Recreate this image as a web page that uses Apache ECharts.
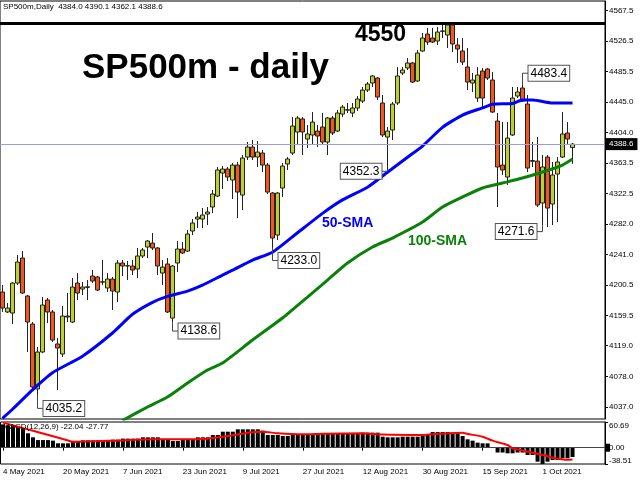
<!DOCTYPE html>
<html><head><meta charset="utf-8">
<script src="https://cdn.jsdelivr.net/npm/echarts@6/dist/echarts.min.js"></script>
<style>html,body{margin:0;padding:0;background:#fff;}#c{width:640px;height:480px;}</style>
</head><body><div id="c"></div>
<script>
// ---------- DATA ----------
const openP = [4190.8,4164.1,4162.7,4202.8,4236.3,4185.5,4148.0,4061.1,4110.6,4180.1,
4164.1,4121.3,4107.9,4158.7,4150.7,4202.8,4194.8,4197.0,4212.2,4210.9,
4204.0,4196.2,4208.2,4190.8,4229.6,4225.6,4225.6,4221.6,4239.0,4251.0,
4256.3,4249.7,4216.2,4228.3,4156.0,4229.6,4248.3,4245.6,4272.4,4288.4,
4288.4,4295.1,4304.5,4319.2,4349.9,4355.3,4340.6,4360.6,4320.5,4371.3,
4384.7,4371.3,4376.7,4360.6,4323.2,4267.0,4329.9,4362.0,4376.7,4404.8,
4422.2,4395.4,4400.8,4406.1,4411.5,4391.4,4423.5,4406.1,4428.8,4434.0,
4430.2,4436.9,4446.2,4460.9,4470.3,4477.0,4443.6,4398.1,4407.5,4443.6,
4483.7,4490.4,4497.1,4473.0,4513.1,4535.8,4530.5,4526.5,4539.4,4534.5,
4547.9,4521.1,4513.1,4491.7,4470.3,4450.2,4486.4,4489.0,4474.3,4419.5,
4360.6,4344.6,4400.8,4452.9,4463.6,4442.2,4365.6,4365.9,4309.8,4371.3,
4308.5,4348.6,4371.3,4403.4,4384.0];
const highP = [4200.2,4176.1,4204.2,4240.3,4245.6,4186.8,4150.7,4117.3,4184.1,4182.8,
4166.7,4129.3,4172.1,4189.5,4209.5,4216.2,4204.2,4206.9,4220.2,4212.2,
4233.6,4216.2,4210.9,4233.6,4233.6,4232.3,4233.6,4249.7,4249.7,4260.3,
4269.7,4251.0,4233.6,4236.3,4226.9,4259.0,4257.7,4273.7,4288.4,4297.8,
4303.1,4304.5,4327.2,4358.0,4359.3,4358.0,4363.3,4364.7,4374.0,4391.4,
4394.1,4392.7,4380.7,4363.3,4324.5,4324.5,4363.3,4371.3,4424.8,4426.2,
4424.8,4414.1,4431.5,4414.1,4430.2,4424.8,4426.2,4434.2,4440.9,4443.6,
4443.6,4452.9,4465.0,4471.6,4481.0,4478.3,4454.3,4411.5,4444.9,4491.7,
4491.7,4503.7,4498.4,4514.4,4537.2,4543.9,4543.9,4545.2,4550.5,4550.5,
4550.5,4530.5,4530.5,4517.1,4483.7,4491.7,4490.4,4490.4,4485.0,4430.2,
4418.1,4418.1,4465.0,4465.0,4467.6,4454.3,4391.4,4398.1,4374.0,4374.0,
4364.7,4371.3,4431.5,4418.1,4390.1];
const lowP = [4164.1,4162.7,4148.0,4200.2,4188.2,4110.6,4059.8,4054.4,4109.2,4149.4,
4123.9,4059.8,4103.9,4150.7,4149.4,4180.1,4186.8,4180.1,4202.8,4192.1,
4200.2,4190.8,4166.7,4177.4,4212.2,4206.9,4213.5,4209.5,4236.3,4236.3,
4247.0,4213.5,4200.2,4162.7,4150.0,4217.6,4241.6,4244.3,4267.0,4276.4,
4276.4,4280.4,4296.5,4317.8,4328.5,4339.2,4315.2,4289.8,4300.5,4367.3,
4367.3,4358.0,4351.3,4321.9,4249.7,4260.3,4317.8,4354.0,4374.0,4387.4,
4374.0,4383.4,4387.4,4384.7,4387.4,4374.0,4400.8,4404.8,4424.8,4430.2,
4424.8,4432.9,4443.6,4458.3,4465.0,4447.6,4398.1,4354.0,4394.1,4440.9,
4481.0,4487.7,4470.3,4471.6,4511.8,4521.1,4523.8,4521.1,4530.5,4517.1,
4511.8,4497.1,4494.4,4460.9,4458.3,4444.9,4438.2,4474.3,4430.2,4304.5,
4347.3,4333.9,4399.4,4450.2,4444.9,4351.3,4358.0,4304.5,4280.0,4277.7,
4280.4,4284.4,4370.0,4387.4,4362.1];
const closeP = [4169.4,4169.4,4202.8,4230.9,4189.5,4150.7,4063.8,4110.6,4173.4,4164.1,
4126.6,4115.9,4158.7,4157.4,4197.5,4189.5,4197.5,4197.8,4205.5,4193.5,
4204.5,4208.2,4192.1,4229.6,4225.6,4226.0,4220.2,4239.0,4247.0,4259.0,
4249.7,4225.6,4224.2,4164.1,4225.6,4248.3,4243.0,4268.4,4283.1,4291.1,
4293.8,4297.8,4321.9,4354.0,4355.3,4344.6,4360.6,4324.5,4370.0,4384.7,
4371.3,4378.0,4360.6,4324.5,4263.0,4323.2,4359.3,4368.7,4412.8,4423.5,
4404.8,4402.1,4418.1,4399.4,4391.4,4423.5,4403.4,4430.2,4438.2,4434.6,
4436.9,4448.9,4460.9,4469.0,4479.7,4451.6,4400.8,4406.1,4442.2,4479.7,
4487.7,4497.1,4471.6,4510.4,4530.5,4525.1,4525.1,4538.5,4540.0,4547.9,
4522.5,4515.8,4498.4,4471.6,4474.3,4481.0,4450.2,4477.0,4431.5,4358.0,
4354.0,4396.7,4450.2,4458.3,4446.2,4356.6,4366.7,4307.2,4358.0,4303.1,
4347.3,4364.7,4402.1,4395.4,4388.6];

// 50-SMA and 100-SMA read at these bar positions
const sma50Idx = [0,2,6,10,16,22,26,30,33,37,40,44,46,50,54,59,64,68,73,77,81,84,88,92,96,98,102,104,106,110,114];
const sma50Val = [4022,4034,4060,4083,4105,4136,4161,4177,4185,4192,4200,4213.5,4220,4233.6,4244,4270,4296,4314,4331,4351,4371,4386,4411,4427.5,4437,4442,4443,4447.5,4447.5,4443.5,4443.5];
const sma100Idx = [24,29,33,37,41,44,50,56,61,65,69,74,78,84,88,92,96,100,104,108,112,114];
const sma100Val = [4019,4037,4050.4,4069.1,4086.5,4095.8,4126.6,4156,4184.1,4206.8,4229.6,4251,4263,4284.4,4304.5,4317.8,4329.9,4336.5,4343.2,4351.3,4360.6,4368.6];

// MACD main (histogram) and signal
const macdMain = [55,53,51,50,46,34,24.5,18,18,18,
16.6,10.3,10.3,10.3,14.2,14.2,17.4,17.4,17.4,17.4,
17.4,17.4,19,19,21.4,21.4,21.4,21.4,24.5,24.5,
24.5,24.5,19.8,19.8,15.8,15.8,18.1,18.1,18.1,24.5,
24.5,24.5,30,30,37.8,37.8,37.8,43.4,43.4,43.4,
43.4,43.4,40.3,30,30,30,27.6,27.6,32.4,32.4,
32.4,32.4,32.4,32.4,32.4,32.4,32.4,32.4,32.4,32.4,
32.4,32.4,35.5,35.5,35.5,35.5,26,24.5,24.5,24.5,
26,26,26,26,32.4,32.4,37,37,37,37,
35.5,35.5,27.6,19.8,16.6,11.9,10.3,10.3,0.9,-11.4,
-11.4,-13.3,-13.3,-11.4,-11.4,-17.2,-17.2,-33,-38.51,-33,
-29.1,-29.1,-25.1,-25.1,-22.04];
const sigIdx = [0,4,8,12,14,22,30,36,41,45,49,52,55,60,64,72,76,84,86,92,93,96,98,101,102,105,108,110,113,114];
const sigVal = [59.2,46.3,33.4,20.5,14.2,16.6,19.8,19.8,21.4,27.6,35.5,37.8,34.0,31.6,33,34.0,31,30.0,32,35.5,32.4,26.0,16.6,6.4,-1.4,-9.4,-17.2,-23.6,-28.5,-27.77];

const priceTicks = [4567.5,4526.5,4485.5,4445.0,4404.0,4363.5,4322.5,4282.0,4241.0,4200.5,4159.5,4119.0,4078.0,4037.0];
const macdTicks = [60.69,0,-38.51];
const dateTicks = ['4 May 2021','20 May 2021','7 Jun 2021','23 Jun 2021','9 Jul 2021','27 Jul 2021','12 Aug 2021','30 Aug 2021','15 Sep 2021','1 Oct 2021'];

const levelLine = 4550;
const lastPrice = 4388.6;

const annIdx = [7,34,54,77,104,108];
const annPrice = [4035.2,4138.6,4233.0,4352.3,4483.4,4271.6];
const annAnchor = ['low','low','low','low','high','low'];
const annSide = ['right','right','right','left','right','left'];

// ---------- BUILD ----------
const N_CAT = 121;
const MON = ['Jan','Feb','Mar','Apr','May','Jun','Jul','Aug','Sep','Oct','Nov','Dec'];
const categories = [];
(function(){
  const d = new Date(Date.UTC(2021,4,4));
  while (categories.length < N_CAT) {
    const wd = d.getUTCDay();
    if (wd !== 0 && wd !== 6) categories.push(d.getUTCDate()+' '+MON[d.getUTCMonth()]+' '+d.getUTCFullYear());
    d.setUTCDate(d.getUTCDate()+1);
  }
})();
const candleData = openP.map((o,i)=>[o, closeP[i], lowP[i], highP[i]]);
function sparse(idx, val){ const a = new Array(openP.length).fill(null); idx.forEach((k,j)=>{a[k]=val[j];}); return a; }
const sma50 = sparse(sma50Idx, sma50Val);
const sma100 = sparse(sma100Idx, sma100Val);
const signal = sparse(sigIdx, sigVal);

const FONT = '"Liberation Sans", Arial, sans-serif';
const chart = echarts.init(document.getElementById('c'), null, {renderer:'canvas'});
const option = {
  animation:false,
  textStyle:{fontFamily:FONT},
  grid:[
    {left:0, width:605, top:1, height:418, show:true, borderColor:'#000', borderWidth:1},
    {left:0, width:605, top:422, height:42, show:true, borderColor:'#000', borderWidth:1}
  ],
  xAxis:[
    {type:'category', gridIndex:0, data:categories, boundaryGap:true,
     axisLine:{show:false}, axisTick:{show:false}, axisLabel:{show:false}, splitLine:{show:false}},
    {type:'category', gridIndex:1, data:categories, boundaryGap:true,
     axisLine:{show:false},
     axisTick:{show:true, alignWithLabel:true, length:3, lineStyle:{color:'#000'}, interval:(i,v)=>dateTicks.includes(v)},
     axisLabel:{interval:(i,v)=>dateTicks.includes(v), align:'left', fontSize:8, color:'#000', margin:4, fontFamily:FONT},
     splitLine:{show:false}}
  ],
  yAxis:[
    {type:'value', gridIndex:0, position:'right', min:4021.0, max:4580.0, scale:true,
     axisLine:{show:true, lineStyle:{color:'#000'}},
     axisTick:{show:true, length:3, customValues:priceTicks, lineStyle:{color:'#000'}},
     axisLabel:{customValues:priceTicks, formatter:v=>v.toFixed(1), fontSize:8, color:'#000', margin:4, fontFamily:FONT},
     splitLine:{show:false}},
    {type:'value', gridIndex:1, position:'right', min:-38.51, max:60.69,
     axisLine:{show:true, lineStyle:{color:'#000'}},
     axisTick:{show:true, length:3, customValues:macdTicks, lineStyle:{color:'#000'}},
     axisLabel:{show:false}, splitLine:{show:false}}
  ],
  series:[
    {type:'candlestick', xAxisIndex:0, yAxisIndex:0, data:candleData, barWidth:4, z:3,
     itemStyle:{color:'#bccf2c', color0:'#f0561d', borderColor:'#222', borderColor0:'#222', borderWidth:1},
     markLine:{silent:true, symbol:['none','none'], label:{show:false}, animation:false,
       data:[{yAxis:levelLine, lineStyle:{color:'#000', width:3, type:'solid'}},
             {yAxis:lastPrice, lineStyle:{color:'#9c9ce6', width:1, type:'solid'}}]}},
    {type:'line', xAxisIndex:0, yAxisIndex:0, data:sma50, connectNulls:true, smooth:0.2,
     showSymbol:false, lineStyle:{color:'#0000ff', width:3}, z:4},
    {type:'line', xAxisIndex:0, yAxisIndex:0, data:sma100, connectNulls:true, smooth:0.2,
     showSymbol:false, lineStyle:{color:'#0a820a', width:3}, z:4},
    {type:'bar', xAxisIndex:1, yAxisIndex:1, data:macdMain, barWidth:4, itemStyle:{color:'#000'},
     markLine:{silent:true, symbol:['none','none'], label:{show:false}, animation:false,
       data:[{yAxis:0, lineStyle:{color:'#444', width:1, type:'solid'}}]}},
    {type:'line', xAxisIndex:1, yAxisIndex:1, data:signal, connectNulls:true, smooth:0.2,
     showSymbol:false, lineStyle:{color:'#ff0000', width:2}, z:5}
  ]
};
chart.setOption(option);

// ---------- TEXT / ANNOTATIONS ----------
const g = [];
g.push({type:'text', x:3, y:7, style:{text:'SP500m,Daily  4384.0 4390.1 4362.1 4388.6', font:'8px '+FONT, fill:'#000', verticalAlign:'middle'}});
g.push({type:'text', x:82, y:68, style:{text:'SP500m - daily', font:'bold 35px '+FONT, fill:'#000', verticalAlign:'middle'}});
g.push({type:'text', x:355, y:35, style:{text:'4550', font:'bold 23px '+FONT, fill:'#000', verticalAlign:'middle'}});
g.push({type:'text', x:322, y:223, style:{text:'50-SMA', font:'bold 14px '+FONT, fill:'#0000ff', verticalAlign:'middle'}});
g.push({type:'text', x:408, y:241, style:{text:'100-SMA', font:'bold 14px '+FONT, fill:'#0a820a', verticalAlign:'middle'}});

annIdx.forEach((i,k)=>{
  const anchorVal = annAnchor[k]==='low' ? lowP[i] : highP[i];
  const p0 = chart.convertToPixel({gridIndex:0}, [i, anchorVal]);
  const p1 = chart.convertToPixel({gridIndex:0}, [i, annPrice[k]]);
  const dx = annSide[k]==='right' ? 6 : -6;
  g.push({type:'polyline', shape:{points:[[p0[0],p0[1]],[p1[0],p1[1]],[p1[0]+dx,p1[1]]]}, style:{stroke:'#444', lineWidth:1, fill:null}, z:100});
  g.push({type:'text', x:p1[0]+dx, y:p1[1], z:101, style:{text:annPrice[k].toFixed(1), font:'12px '+FONT, fill:'#000',
    align: annSide[k]==='right'?'left':'right', verticalAlign:'middle', backgroundColor:'#fff', borderColor:'#555', borderWidth:1, padding:[2,2,1,2]}});
});

const lp = chart.convertToPixel({gridIndex:0}, [0, lastPrice]);
g.push({type:'text', x:606, y:lp[1], z:102, style:{text:lastPrice.toFixed(1), font:'8px '+FONT, fill:'#fff', backgroundColor:'#000', verticalAlign:'middle', padding:[2,4,2,3]}});

g.push({type:'text', x:3, y:427, z:50, style:{text:'MACD(12,26,9) -22.04 -27.77', font:'8px '+FONT, fill:'#000', verticalAlign:'middle'}});
const mTop = chart.convertToPixel({gridIndex:1}, [0, macdTicks[0]]);
const mZero = chart.convertToPixel({gridIndex:1}, [0, macdTicks[1]]);
const mBot = chart.convertToPixel({gridIndex:1}, [0, macdTicks[2]]);
g.push({type:'text', x:609, y:mTop[1]+4, style:{text:macdTicks[0].toFixed(2), font:'8px '+FONT, fill:'#000', verticalAlign:'middle'}});
g.push({type:'rect', shape:{x:606, y:mZero[1]-4, width:4, height:8}, style:{fill:'#000'}});
g.push({type:'text', x:609, y:mZero[1], style:{text:macdTicks[1].toFixed(2), font:'8px '+FONT, fill:'#000', verticalAlign:'middle'}});
g.push({type:'text', x:609, y:mBot[1]-3, style:{text:macdTicks[2].toFixed(2), font:'8px '+FONT, fill:'#000', verticalAlign:'middle'}});

chart.setOption({graphic:g});
</script>
</body></html>
